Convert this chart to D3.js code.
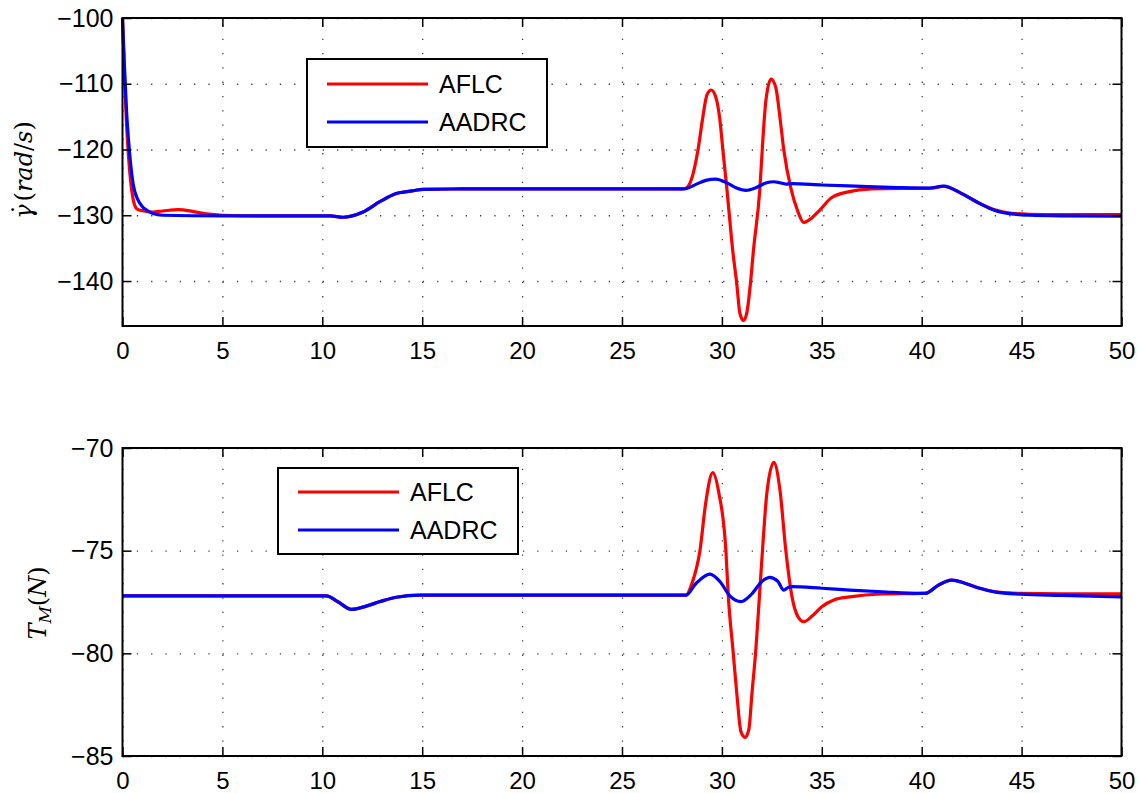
<!DOCTYPE html>
<html>
<head>
<meta charset="utf-8">
<script src="https://cdn.jsdelivr.net/npm/d3@7"></script>
<style>
  body { margin: 0; background: #fff; }
  svg { display: block; }
  .tick text { font-family: "Liberation Sans", Arial, sans-serif; fill: #000; }
  .grid line { stroke: #444; stroke-width: 1.3; stroke-dasharray: 1.3 13; }
  .grid path { display: none; }
  .grid text { display: none; }
</style>
</head>
<body>
<div id="chart"></div>
<script>
// time axis ticks
var xTicks = [0, 5, 10, 15, 20, 25, 30, 35, 40, 45, 50];
var gammaTicks = [-140, -130, -120, -110, -100];
var forceTicks = [-85, -80, -75, -70];
var seriesNames = ["AFLC", "AADRC"];

// gamma dot (rad/s), AFLC
var tGammaAFLC = [0, 0.1, 0.2, 0.3, 0.4, 0.5, 0.6, 0.75, 1.0, 1.5, 2.0, 2.8, 3.5, 4.2, 5, 7, 10.4,
    11.04, 12.04, 12.9, 13.7, 14.5, 15.04, 17, 22, 28.0, 28.2, 28.5, 28.8, 29.05, 29.25, 29.46, 29.68,
    29.9, 30.05, 30.25, 30.54, 30.74, 30.9, 31.08, 31.25, 31.43, 31.58, 31.9, 32.05, 32.2, 32.46, 32.7,
    32.9, 33.1, 33.46, 33.8, 34.1, 34.5, 34.9, 35.5, 36.4, 37.5, 39.0, 40.4, 41.1, 42.0, 42.9, 43.7,
    44.5, 45.4, 47, 50];
var gammaAFLC = [-100, -109, -116, -121, -124.6, -127, -128.4, -129.1, -129.3, -129.5, -129.35, -129.15,
    -129.4, -129.8, -130.0, -130.1, -130.1, -130.3, -129.5, -127.9, -126.7, -126.3, -126.05, -126.0,
    -126.0, -126.0, -125.9, -124.3, -120.1, -115.0, -111.7, -110.95, -111.9, -115.5, -120.1, -126.0,
    -135.3, -140.3, -144.9, -146.0, -144.8, -140.3, -135.3, -126.0, -118.5, -112.6, -109.3, -110.6,
    -115.0, -120.1, -126.0, -129.4, -131.1, -130.4, -129.2, -127.3, -126.4, -126.0, -125.9, -125.9,
    -125.6, -126.7, -128.2, -129.2, -129.7, -129.85, -129.9, -129.9];

// gamma dot (rad/s), AADRC
var tGammaAADRC = [0, 0.1, 0.2, 0.3, 0.4, 0.53, 0.78, 1.0, 1.2, 1.5, 2.0, 5, 10.4, 11.04, 12.04, 12.9,
    13.7, 14.5, 15.04, 17, 22, 28.0, 28.2, 28.7, 29.2, 29.7, 30.2, 30.7, 31.2, 31.7, 32.2, 32.6, 32.9,
    33.2, 33.5, 35.0, 37.0, 39.0, 40.4, 41.1, 42.0, 42.9, 43.7, 44.5, 45.4, 47, 50];
var gammaAADRC = [-100, -107.5, -114, -118.5, -122, -125.2, -127.7, -128.7, -129.2, -129.7, -130.0,
    -130.1, -130.1, -130.3, -129.5, -127.9, -126.7, -126.3, -126.05, -126.0, -126.0, -126.0, -125.95,
    -125.3, -124.7, -124.5, -125.0, -125.8, -126.2, -125.8, -125.1, -124.9, -125.05, -125.25, -125.2,
    -125.4, -125.6, -125.8, -125.85, -125.55, -126.7, -128.2, -129.3, -129.8, -130.0, -130.1, -130.15];

// T_M (N), AFLC
var tForceAFLC = [0, 10.2, 10.8, 11.46, 12.2, 12.9, 13.7, 14.9, 20, 28.2, 28.5, 28.9, 29.2, 29.54,
    29.85, 30.2, 30.32, 30.55, 30.75, 30.95, 31.16, 31.35, 31.5, 31.7, 31.88, 32.03, 32.25, 32.6, 32.9,
    33.2, 33.5, 33.8, 34.1, 34.5, 35.0, 35.6, 36.4, 38.0, 40.0, 40.2, 40.8, 41.5, 42.2, 42.9, 43.7,
    44.96, 47, 50];
var forceAFLC = [-77.2, -77.2, -77.5, -77.86, -77.7, -77.48, -77.27, -77.17, -77.17, -77.17, -76.6,
    -75.0, -72.6, -71.2, -72.2, -75.0, -77.2, -79.8, -82.0, -83.8, -84.09, -83.7, -82.0, -79.8, -77.2,
    -75.0, -72.2, -70.7, -72.0, -75.0, -77.2, -78.2, -78.46, -78.2, -77.73, -77.4, -77.25, -77.11,
    -77.08, -77.07, -76.7, -76.43, -76.6, -76.83, -77.0, -77.08, -77.1, -77.1];

// T_M (N), AADRC
var tForceAADRC = [0, 10.2, 10.8, 11.46, 12.2, 12.9, 13.7, 14.9, 20, 28.2, 28.7, 29.4, 29.9, 30.4,
    30.96, 31.5, 32.0, 32.4, 32.8, 33.1, 33.3, 33.5, 35.0, 36.4, 38, 40.0, 40.2, 40.8, 41.5, 42.2,
    42.9, 43.7, 44.96, 47, 50];
var forceAADRC = [-77.2, -77.2, -77.5, -77.86, -77.7, -77.48, -77.27, -77.17, -77.17, -77.17, -76.6,
    -76.14, -76.5, -77.2, -77.48, -77.1, -76.5, -76.3, -76.5, -76.92, -76.8, -76.75, -76.83, -76.92,
    -77.0, -77.08, -77.08, -76.7, -76.43, -76.6, -76.83, -77.02, -77.12, -77.18, -77.25];

var colors = ["#ff0000", "#0000ff"];

var svg = d3.select("#chart").append("svg")
    .attr("width", 1140)
    .attr("height", 793);

function zip(ts, vs) {
    return ts.map(function (t, i) { return {t: t, v: vs[i]}; });
}

function drawPanel(opt) {
    var width = 999, height = opt.height;
    var x = d3.scaleLinear().domain([0, 50]).range([0, width]);
    var y = d3.scaleLinear().domain(opt.yDomain).range([height, 0]);

    var g = svg.append("g")
        .attr("transform", "translate(" + opt.left + "," + opt.top + ")");

    // dotted grid
    g.append("g").attr("class", "grid")
        .attr("transform", "translate(0," + height + ")")
        .call(d3.axisBottom(x).tickValues(xTicks).tickSize(-height));
    g.append("g").attr("class", "grid")
        .call(d3.axisLeft(y).tickValues(opt.yTicks).tickSize(-width));

    // lines (AFLC under AADRC)
    var line = d3.line()
        .x(function (d) { return x(d.t); })
        .y(function (d) { return y(d.v); })
        .curve(d3.curveMonotoneX);

    opt.series.forEach(function (s, i) {
        g.append("path")
            .datum(s)
            .attr("fill", "none")
            .attr("stroke", colors[i])
            .attr("stroke-width", 3.2)
            .attr("stroke-linejoin", "round")
            .attr("d", line);
    });

    // axes, ticks inward on all sides
    var xb = g.append("g")
        .attr("transform", "translate(0," + height + ")")
        .call(d3.axisBottom(x).tickValues(xTicks).tickSizeInner(-9).tickSizeOuter(0).tickPadding(16));
    var yl = g.append("g")
        .call(d3.axisLeft(y).tickValues(opt.yTicks).tickSizeInner(-9).tickSizeOuter(0).tickPadding(9));
    g.append("g")
        .call(d3.axisTop(x).tickValues(xTicks).tickSizeInner(-9).tickSizeOuter(0).tickFormat(""));
    g.append("g")
        .attr("transform", "translate(" + width + ",0)")
        .call(d3.axisRight(y).tickValues(opt.yTicks).tickSizeInner(-9).tickSizeOuter(0).tickFormat(""));

    g.selectAll(".domain").remove();
    g.selectAll(".tick line").filter(function () { return !this.parentNode.parentNode.classList.contains("grid"); })
        .attr("stroke", "#000").attr("stroke-width", 1.5);
    xb.selectAll("text").attr("font-size", 24);
    yl.selectAll("text").attr("font-size", 25);

    g.append("rect")
        .attr("width", width).attr("height", height)
        .attr("fill", "none").attr("stroke", "#000").attr("stroke-width", 2);

    // legend
    var lg = g.append("g").attr("transform", "translate(" + opt.legend[0] + "," + opt.legend[1] + ")");
    lg.append("rect")
        .attr("width", 240).attr("height", opt.legendH)
        .attr("fill", "#fff").attr("stroke", "#000").attr("stroke-width", 2);
    seriesNames.forEach(function (name, i) {
        var ly = opt.legendRows[i];
        lg.append("line")
            .attr("x1", 20).attr("x2", 121)
            .attr("y1", ly).attr("y2", ly)
            .attr("stroke", colors[i]).attr("stroke-width", 3);
        lg.append("text")
            .attr("x", 132).attr("y", ly + 9)
            .attr("font-family", "Liberation Sans, Arial, sans-serif")
            .attr("font-size", 25)
            .text(name);
    });

    // y label
    var yLab = svg.append("text")
        .attr("transform", "translate(" + opt.labelPos[0] + "," + opt.labelPos[1] + ") rotate(-90)")
        .attr("text-anchor", "middle")
        .attr("font-family", "DejaVu Serif, serif")
        .attr("font-size", 24);
    opt.label(yLab);
}

drawPanel({
    left: 122.5, top: 18, height: 308,
    yDomain: [-146.84, -100], yTicks: gammaTicks,
    series: [zip(tGammaAFLC, gammaAFLC), zip(tGammaAADRC, gammaAADRC)],
    legend: [184.5, 41], legendH: 88, legendRows: [25, 63],
    labelPos: [32, 170],
    label: function (t) {
        t.append("tspan").attr("font-style", "italic").text("\u03B3");
        t.append("tspan").attr("dx", -11).attr("dy", -2).text("\u02D9");
        t.append("tspan").attr("dx", 2).attr("dy", 2).text("(");
        t.append("tspan").attr("font-style", "italic").text("rad");
        t.append("tspan").text("/");
        t.append("tspan").attr("font-style", "italic").text("s");
        t.append("tspan").text(")");
    }
});

drawPanel({
    left: 122.5, top: 448, height: 308,
    yDomain: [-85, -70], yTicks: forceTicks,
    series: [zip(tForceAFLC, forceAFLC), zip(tForceAADRC, forceAADRC)],
    legend: [155.5, 20], legendH: 86, legendRows: [24, 62],
    labelPos: [46, 603],
    label: function (t) {
        t.append("tspan").attr("font-style", "italic").text("T");
        t.append("tspan").attr("font-style", "italic").attr("font-size", 17).attr("dy", 5).text("M");
        t.append("tspan").attr("dy", -5).text("(");
        t.append("tspan").attr("font-style", "italic").text("N");
        t.append("tspan").text(")");
    }
});
</script>
</body>
</html>
